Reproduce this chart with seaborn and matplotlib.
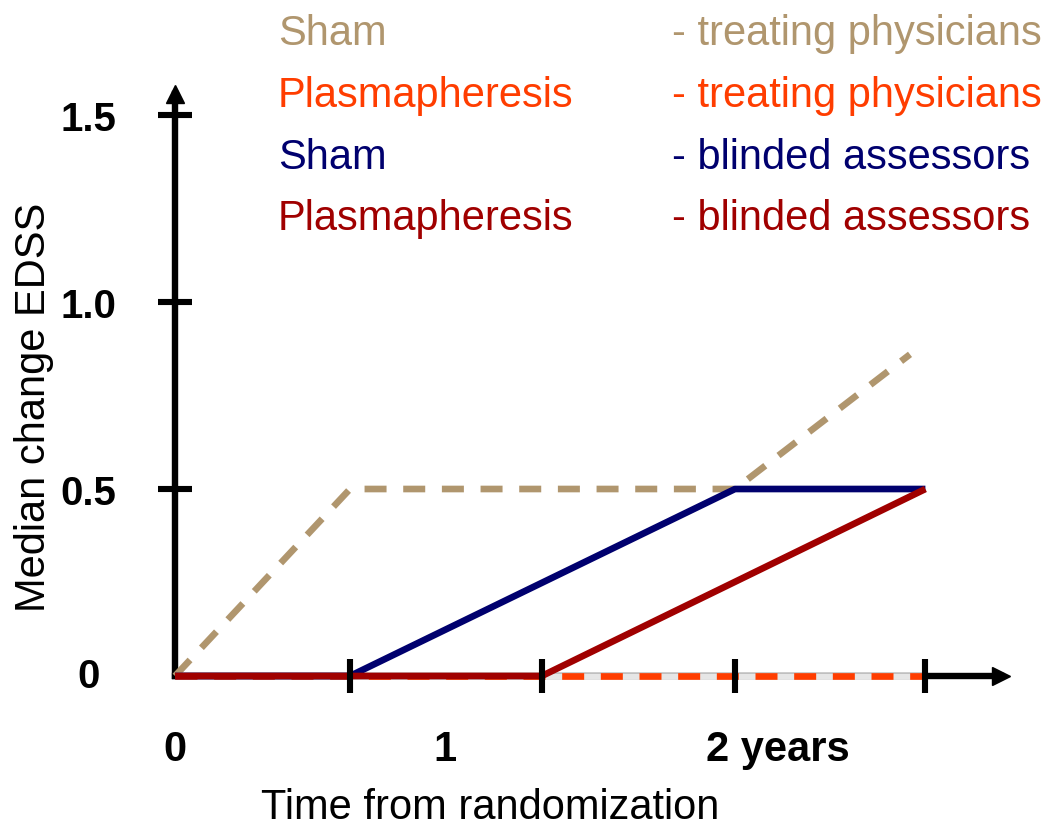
import matplotlib
matplotlib.use("Agg")
import matplotlib.pyplot as plt
import seaborn as sns

# values (time in years, median change in EDSS)
sham_tp_years = [0, 0.625, 2.0, 2.625]
sham_tp_edss = [0, 0.5, 0.5, 0.86]
plasma_tp_years = [0, 1.31, 2.68]
plasma_tp_edss = [0, 0, 0]
sham_ba_years = [0, 0.625, 2.0, 2.68]
sham_ba_edss = [0, 0, 0.5, 0.5]
plasma_ba_years = [0, 1.31, 2.68]
plasma_ba_edss = [0, 0, 0.5]

visit_ticks = [0.625, 1.31, 2.0, 2.68]
x_label_pos = [0, 0.964, 2.154]
x_labels = ["0", "1", "2 years"]
y_ticks = [0, 0.5, 1.0, 1.5]
y_labels = ["", "0.5", "1.0", "1.5"]

legend_groups = ["Sham", "Plasmapheresis", "Sham", "Plasmapheresis"]
legend_raters = ["- treating physicians", "- treating physicians",
                 "- blinded assessors", "- blinded assessors"]

TAN = "#B0966E"
ORANGE = "#FF3D00"
NAVY = "#00006E"
DARKRED = "#A00000"
colors = [TAN, ORANGE, NAVY, DARKRED]

sns.set_theme(style="white")
plt.rcParams["font.family"] = ["Liberation Sans", "DejaVu Sans"]
plt.rcParams["text.color"] = "black"
plt.rcParams["axes.labelcolor"] = "black"
plt.rcParams["xtick.color"] = "black"
plt.rcParams["ytick.color"] = "black"

W, H = 1057, 828
fig = plt.figure(figsize=(W / 100, H / 100), dpi=100)
ax = fig.add_axes([175 / W, 151 / H, 826 / W, 582 / H])

lw = 4.8
dash = (0, (3.3, 2.5))
sns.lineplot(x=sham_tp_years, y=sham_tp_edss, ax=ax, color=TAN, linewidth=lw,
             linestyle=dash, zorder=3.0)
sns.lineplot(x=plasma_tp_years[1:], y=plasma_tp_edss[1:], ax=ax, color="#E6E6E6",
             linewidth=lw, zorder=3.1)
sns.lineplot(x=plasma_tp_years, y=plasma_tp_edss, ax=ax, color=ORANGE, linewidth=lw,
             linestyle=dash, zorder=3.2)
sns.lineplot(x=sham_ba_years, y=sham_ba_edss, ax=ax, color=NAVY, linewidth=lw,
             zorder=3.3)
sns.lineplot(x=plasma_ba_years, y=plasma_ba_edss, ax=ax, color=DARKRED, linewidth=lw,
             zorder=3.4)
for ln in ax.lines:
    ln.set_clip_on(False)
    ln.set_solid_capstyle("butt")
    ln.set_dash_capstyle("butt")

ax.set_xlim(0, 826 / 280)
ax.set_ylim(0, 582 / 374)

# axes as arrows
for s in ["top", "right"]:
    ax.spines[s].set_visible(False)
for s in ["left", "bottom"]:
    ax.spines[s].set_linewidth(4.6)
    ax.spines[s].set_color("black")
ax.plot(0, 1, marker="^", ms=13, color="black", transform=ax.transAxes, clip_on=False)
ax.plot(1, 0, marker=">", ms=13, color="black", transform=ax.transAxes, clip_on=False)

# x: labels on major ticks, visit marks on minor ticks
ax.set_xticks(x_label_pos)
ax.set_xticklabels(x_labels, fontsize=30, fontweight="bold", color="black")
ax.set_xticks(visit_ticks, minor=True)
ax.tick_params(axis="x", which="major", length=0, pad=38, colors="black")
ax.tick_params(axis="x", which="minor", bottom=True, length=24, width=4.4,
               direction="inout", color="black")

ax.set_yticks(y_ticks)
ax.set_yticklabels(y_labels, fontsize=29, fontweight="bold", color="black")
ax.tick_params(axis="y", which="major", left=True, length=24, width=4.4,
               direction="inout", pad=30, colors="black")
ax.yaxis.get_major_ticks()[0].tick1line.set_visible(False)
ax.text(-0.31, 0, "0", fontsize=29, fontweight="bold", ha="center", va="center",
        color="black", clip_on=False)
ax.xaxis.set_zorder(4)
ax.yaxis.set_zorder(4)

ax.set_xlabel("Time from randomization", fontsize=30, color="black")
ax.set_ylabel("Median change EDSS", fontsize=30, color="black")
ax.xaxis.set_label_coords((490 - 175) / 826, (677 - 788) / 582)
ax.yaxis.set_label_coords((54 - 175) / 826, (677 - 407) / 582)

# text legend at the top
baselines = [45, 107, 169, 230]
for grp, rater, col, yb in zip(legend_groups, legend_raters, colors, baselines):
    fig.text(278 / W, 1 - yb / H, grp, color=col, fontsize=30, va="baseline")
    fig.text(672 / W, 1 - yb / H, rater, color=col, fontsize=30, va="baseline")

fig.savefig("out.png", dpi=100)
plt.close(fig)
